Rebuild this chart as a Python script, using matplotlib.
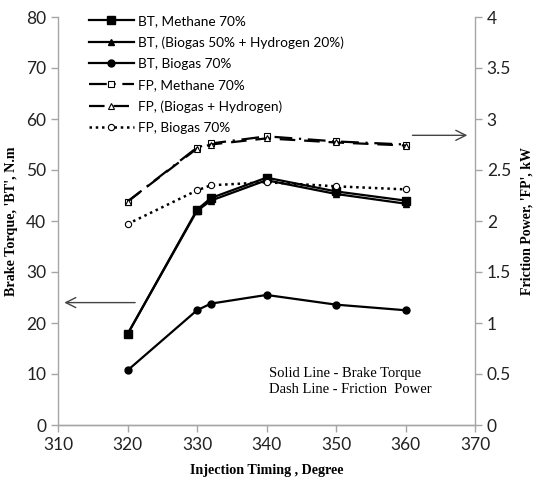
import matplotlib
matplotlib.use("Agg")
import matplotlib.pyplot as plt

# Injection timing (degree)
timing = [320, 330, 332, 340, 350, 360]

# Brake torque, N.m
bt_methane = [17.8, 42.2, 44.5, 48.5, 45.8, 44.0]
bt_biogas_h2 = [17.8, 42.0, 44.0, 48.0, 45.3, 43.4]
bt_biogas = [10.7, 22.5, 23.8, 25.5, 23.6, 22.5]

# Friction power, kW
fp_methane = [2.19, 2.72, 2.76, 2.83, 2.78, 2.75]
fp_biogas_h2 = [2.19, 2.71, 2.75, 2.81, 2.77, 2.74]
fp_biogas = [1.97, 2.30, 2.35, 2.38, 2.34, 2.31]

grey = "#a6a6a6"
tickfont = "Lato"
serif = "Liberation Serif"

fig = plt.figure(figsize=(5.39, 4.88), dpi=100)
ax = fig.add_axes([58 / 539, 1 - 425 / 488, 417 / 539, 408 / 488])
ax2 = ax.twinx()

# brake torque (solid)
l1, = ax.plot(timing, bt_methane, "k-", lw=1.6, marker="s", ms=5.5, label="BT, Methane 70%")
l2, = ax.plot(timing, bt_biogas_h2, "k-", lw=1.6, marker="^", ms=5,
              label="BT, (Biogas 50% + Hydrogen 20%)")
l3, = ax.plot(timing, bt_biogas, "k-", lw=1.6, marker="o", ms=5, label="BT, Biogas 70%")

# friction power (dashed)
l4, = ax2.plot(timing, fp_methane, color="k", lw=1.6, ls=(0, (8, 3, 1, 3)), marker="s", ms=5,
               mfc="white", mec="k", mew=0.8, label="FP, Methane 70%")
l5, = ax2.plot(timing, fp_biogas_h2, color="k", lw=1.6, ls=(0, (7, 4)), marker="^", ms=4.5,
               mfc="white", mec="k", mew=0.8, label="FP, (Biogas + Hydrogen)")
l6, = ax2.plot(timing, fp_biogas, color="k", lw=1.8, ls=(0, (1, 1.5)), marker="o", ms=4.5,
               mfc="white", mec="k", mew=0.8, label="FP, Biogas 70%")

ax.set_xlim(310, 370)
ax.set_ylim(0, 80)
ax2.set_ylim(0, 4)
ax.set_xticks(range(310, 371, 10))
ax.set_yticks(range(0, 81, 10))
ax2.set_yticks([0, 0.5, 1, 1.5, 2, 2.5, 3, 3.5, 4])
ax2.set_yticklabels(["0", "0.5", "1", "1.5", "2", "2.5", "3", "3.5", "4"])

for a in (ax, ax2):
    a.spines["top"].set_visible(False)
    for s in ("left", "right", "bottom"):
        a.spines[s].set_color(grey)
        a.spines[s].set_linewidth(1.0)
    a.tick_params(colors=grey, length=5, width=1, labelcolor="#222222", labelsize=12.5)
    for lab in a.get_xticklabels() + a.get_yticklabels():
        lab.set_fontfamily(tickfont)
ax2.spines["left"].set_visible(False)
ax.spines["right"].set_visible(False)

ax.set_xlabel("Injection Timing , Degree", fontfamily=serif, fontweight="bold", fontsize=10.2,
              labelpad=8)
ax.set_ylabel("Brake Torque, 'BT', N.m", fontfamily=serif, fontweight="bold", fontsize=10.2,
              labelpad=6)
ax2.set_ylabel("Friction Power, 'FP', kW", fontfamily=serif, fontweight="bold", fontsize=10,
               labelpad=7)

# arrows pointing to the axes
ax.annotate("", xy=(310.5, 24), xytext=(321.5, 24),
            arrowprops=dict(arrowstyle="->", color="#444444", lw=1, mutation_scale=18))
ax2.annotate("", xy=(369.3, 2.84), xytext=(360.6, 2.84),
             arrowprops=dict(arrowstyle="->", color="#444444", lw=1, mutation_scale=18))

ax2.text(340.3, 8.6 / 20, "Solid Line - Brake Torque\nDash Line - Friction  Power",
         fontfamily=serif, fontsize=10.5, va="center", ha="left", linespacing=1.3)

fig.legend(handles=[l1, l2, l3, l4, l5, l6], loc="upper left",
           bbox_to_anchor=(86 / 539, 1 - 12 / 488), frameon=False,
           prop={"family": tickfont, "size": 9.8}, handlelength=3.3, handletextpad=0.3,
           labelspacing=0.68, borderpad=0.2, borderaxespad=0)

fig.savefig("out.png", dpi=100)
